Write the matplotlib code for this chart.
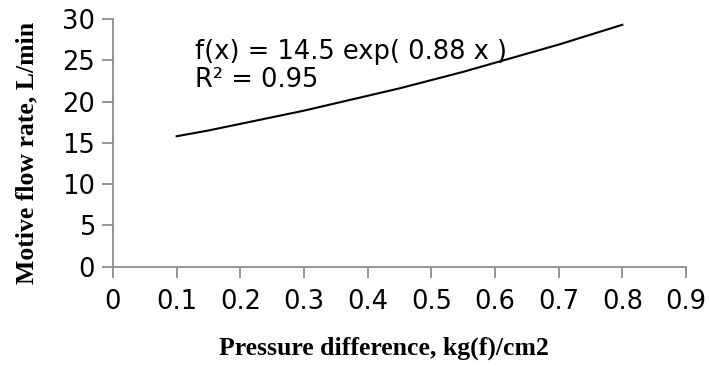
import matplotlib
matplotlib.use('Agg')
import matplotlib.pyplot as plt

# values
pressure = [0.10, 0.15, 0.20, 0.25, 0.30, 0.35, 0.40, 0.45, 0.50, 0.55, 0.60, 0.65, 0.70, 0.75, 0.80]
flow = [15.8, 16.5, 17.3, 18.1, 18.9, 19.8, 20.7, 21.6, 22.6, 23.6, 24.7, 25.8, 26.9, 28.1, 29.3]
x_ticks = [0, 0.1, 0.2, 0.3, 0.4, 0.5, 0.6, 0.7, 0.8, 0.9]
y_ticks = [0, 5, 10, 15, 20, 25, 30]

fig = plt.figure(figsize=(7.09, 3.66), dpi=100)
ax = fig.add_axes([113 / 709, 1 - 266.7 / 366, 573 / 709, 247.7 / 366])

ax.plot(pressure, flow, color='black', lw=1.5)

ax.set_xlim(0, 0.9)
ax.set_ylim(0, 30)
ax.set_xticks(x_ticks)
ax.set_xticklabels(['0' if t == 0 else str(t) for t in x_ticks])
ax.set_yticks(y_ticks)

for s in ['top', 'right']:
    ax.spines[s].set_visible(False)
for s in ['left', 'bottom']:
    ax.spines[s].set_color('#8c8c8c')
    ax.spines[s].set_linewidth(1.3)

ax.tick_params(axis='both', colors='#8c8c8c', labelcolor='black', labelsize=18.5,
               length=8, width=1.3, direction='out')
ax.tick_params(axis='x', pad=8)
ax.tick_params(axis='y', pad=5)

# axis titles
fig.text(383.5 / 709, 1 - 355 / 366, 'Pressure difference, kg(f)/cm2',
         family='Liberation Serif', fontweight='bold', fontsize=18.5,
         ha='center', va='baseline')
fig.text(27 / 709, 1 - 153 / 366, 'Motive flow rate, L/min',
         family='Liberation Serif', fontweight='bold', fontsize=18.5,
         ha='center', va='center', rotation=90)

fig.text(195 / 709, 1 - 39 / 366, 'f(x) = 14.5 exp( 0.88 x )\nR² = 0.95',
         fontsize=18.5, va='top', ha='left', linespacing=1.1)

fig.savefig('out.png', dpi=100)
